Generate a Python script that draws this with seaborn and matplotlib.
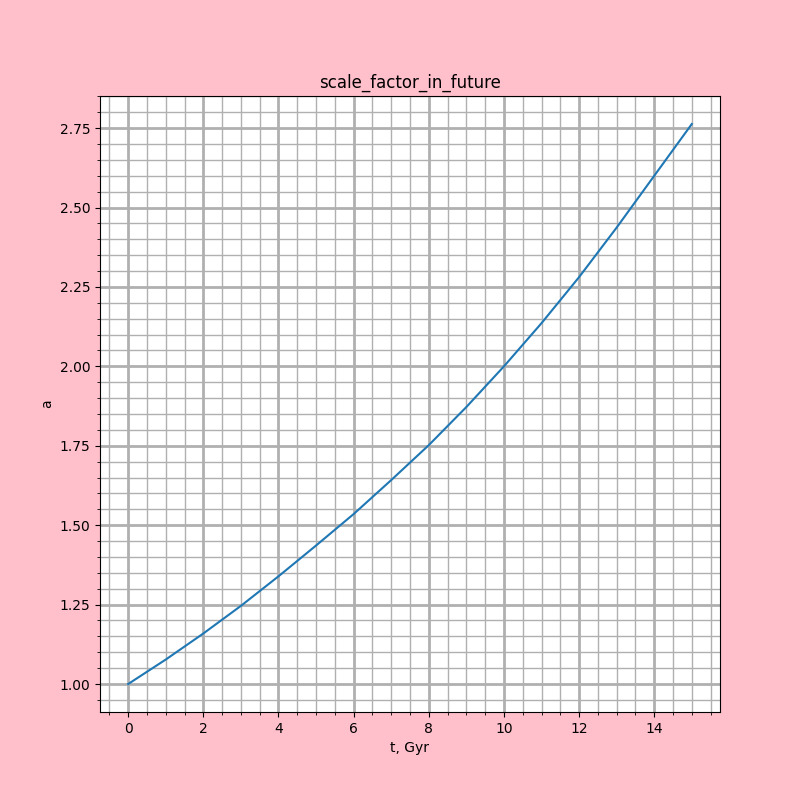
import matplotlib
matplotlib.use("Agg")
import matplotlib.pyplot as plt
import seaborn as sns
import pandas as pd
from matplotlib.ticker import MultipleLocator

t_gyr = [0, 1, 2, 3, 4, 5, 6, 7, 8, 9, 10, 11, 12, 13, 14, 15]
scale_a = [1.00, 1.077, 1.159, 1.246, 1.339, 1.436, 1.535, 1.642, 1.752, 1.872, 2.00, 2.136, 2.281, 2.437, 2.600, 2.763]

df = pd.DataFrame({"t": t_gyr, "a": scale_a})

fig = plt.figure(figsize=(8, 8), dpi=100, facecolor="pink")
ax = fig.add_subplot(111)
sns.lineplot(data=df, x="t", y="a", ax=ax, color="#1f77b4")

ax.xaxis.set_major_locator(MultipleLocator(2))
ax.xaxis.set_minor_locator(MultipleLocator(0.5))
ax.yaxis.set_major_locator(MultipleLocator(0.25))
ax.yaxis.set_minor_locator(MultipleLocator(0.05))
ax.grid(which="major", color="#b0b0b0", linewidth=2)
ax.grid(which="minor", color="#b0b0b0", linewidth=1)
ax.set_axisbelow(True)

ax.set_title("scale_factor_in_future")
ax.set_xlabel("t, Gyr")
ax.set_ylabel("a")

fig.savefig("out.png", dpi=100, facecolor="pink")
